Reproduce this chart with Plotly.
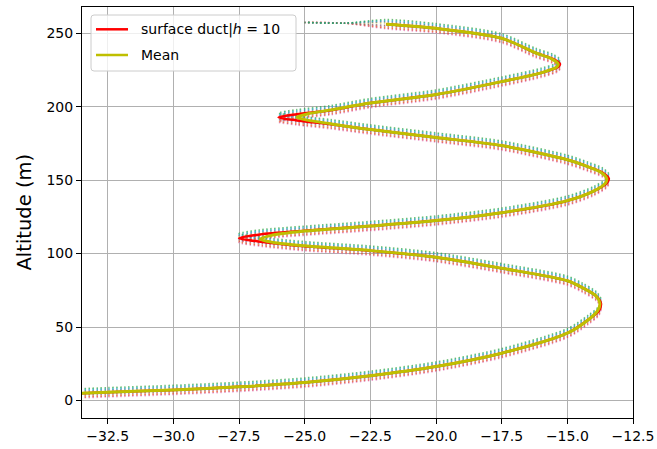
import plotly.graph_objects as go

# ---- data ----
mean_x = [-34.0, -32.5, -30.0, -27.5, -25.0, -22.5, -20.0, -17.5, -15.0, -14.2, -13.85, -13.76,
          -13.9, -14.4, -15.0, -17.5, -20.0, -22.5, -25.0, -26.2, -26.7, -26.3, -25.0, -22.5,
          -20.0, -17.5, -15.0, -14.0, -13.55, -13.5, -13.7, -14.2, -15.0, -17.5, -20.0, -22.5,
          -24.0, -24.9, -25.3, -24.9, -24.0, -22.5, -20.0, -17.5, -16.0, -15.4, -15.35, -15.6,
          -16.2, -17.5, -20.0, -21.9]
mean_y = [4.6, 5.6, 7.2, 9.3, 12.2, 16.8, 23.1, 32.2, 45.8, 55.0, 61.0, 66.0,
          71.0, 76.5, 81.5, 90.0, 97.5, 102.0, 105.3, 107.6, 109.8, 112.2, 115.3, 118.7,
          122.5, 127.8, 136.0, 142.5, 148.0, 151.0, 155.0, 159.0, 163.8, 173.5, 179.0, 184.4,
          188.3, 190.8, 192.8, 195.0, 197.8, 202.4, 208.2, 217.0, 223.0, 227.0, 229.0, 232.5,
          236.5, 246.5, 253.3, 256.1]

red_x = [-34.0, -32.5, -30.0, -27.5, -25.0, -22.5, -20.0, -17.5, -15.0, -14.2, -13.8, -13.72,
         -13.9, -14.4, -15.0, -17.5, -20.0, -22.5, -25.0, -26.6, -27.5, -26.7, -25.0, -22.5,
         -20.0, -17.5, -15.0, -14.0, -13.5, -13.42, -13.65, -14.2, -15.0, -17.5, -20.0, -22.5,
         -24.0, -25.3, -26.0, -25.3, -24.0, -22.5, -20.0, -17.5, -16.0, -15.35, -15.28, -15.55,
         -16.2, -17.5, -20.0, -21.9]
red_y = [4.6, 5.6, 7.2, 9.3, 12.2, 16.8, 23.1, 32.2, 45.8, 55.0, 61.0, 66.0,
         71.0, 76.5, 81.5, 90.0, 97.5, 102.0, 105.0, 107.9, 110.5, 113.0, 115.5, 118.7,
         122.5, 127.8, 136.0, 142.5, 148.0, 151.0, 155.0, 159.0, 163.8, 173.5, 179.0, 184.4,
         188.0, 190.6, 192.6, 194.8, 197.6, 202.4, 208.2, 217.0, 223.0, 227.0, 229.0, 232.5,
         236.5, 246.5, 253.3, 256.1]

# ensemble members: altitude offsets relative to the duct profile, plus their longer top tail
member_dy = [-3.2, -2.6, -2.0, -1.4, -0.8, 0.8, 1.4, 2.0, 2.6, 3.2]
member_tail_x = [-23.5, -25.0]
member_tail_y = [256.8, 257.3]
member_colors = ['#e377c2', '#d62728', '#ff7f0e', '#9467bd', '#8c564b',
                 '#bcbd22', '#7f7f7f', '#1f77b4', '#17becf', '#2ca02c']

x_ticks = [-32.5, -30.0, -27.5, -25.0, -22.5, -20.0, -17.5, -15.0, -12.5]
y_ticks = [0, 50, 100, 150, 200, 250]
legend_labels = ["surface duct|<i>h</i> = 10", "Mean"]
legend_colors = ["#ff0000", "#bfbf00"]

FONT = "DejaVu Sans"
W, H = 657, 449
L, R, T, B = 82, 24, 7, 31
PW, PH = W - L - R, H - T - B


def px2paper(px, py):
    return (px - L) / PW, (H - B - py) / PH


fig = go.Figure()

for dy, col in zip(member_dy, member_colors):
    fig.add_trace(go.Scatter(
        x=red_x + member_tail_x,
        y=[v + dy for v in red_y] + member_tail_y,
        mode="lines", line=dict(color=col, width=1.5, dash="1.5px,2.5px", shape="spline", smoothing=0.8),
        opacity=0.6, showlegend=False, hoverinfo="skip"))

fig.add_trace(go.Scatter(x=red_x, y=red_y, mode="lines", name=legend_labels[0], showlegend=False,
                         line=dict(color=legend_colors[0], width=2.5, shape="spline", smoothing=0.8)))
fig.add_trace(go.Scatter(x=mean_x, y=mean_y, mode="lines", name=legend_labels[1], showlegend=False,
                         line=dict(color=legend_colors[1], width=3, shape="spline", smoothing=0.8)))

axis_common = dict(showgrid=True, gridcolor="#b0b0b0", gridwidth=0.8, zeroline=False,
                   showline=True, linecolor="black", linewidth=1, mirror=True,
                   ticks="outside", ticklen=5, tickcolor="black", automargin=False,
                   ticklabeloverflow="allow",
                   tickfont=dict(family=FONT, size=14, color="black"))

# manual legend (box, line samples, labels) placed like the reference
shapes = []
annotations = []
bx0, by0 = px2paper(91, 71)
bx1, by1 = px2paper(296, 15)
r = 3
rx, ry = r / PW, r / PH
path = (f"M {bx0 + rx},{by0} L {bx1 - rx},{by0} Q {bx1},{by0} {bx1},{by0 + ry} "
        f"L {bx1},{by1 - ry} Q {bx1},{by1} {bx1 - rx},{by1} L {bx0 + rx},{by1} "
        f"Q {bx0},{by1} {bx0},{by1 - ry} L {bx0},{by0 + ry} Q {bx0},{by0} {bx0 + rx},{by0} Z")
shapes.append(dict(type="path", path=path, xref="paper", yref="paper",
                   line=dict(color="#cccccc", width=1), fillcolor="rgba(255,255,255,0.8)"))
for i, (lab, col) in enumerate(zip(legend_labels, legend_colors)):
    row_y = 29.3 + i * 25.7
    x0, yy = px2paper(96, row_y)
    x1, _ = px2paper(128, row_y)
    shapes.append(dict(type="line", xref="paper", yref="paper", x0=x0, x1=x1, y0=yy, y1=yy,
                       line=dict(color=col, width=2.5)))
    tx, _ = px2paper(139, row_y)
    annotations.append(dict(text=lab, xref="paper", yref="paper", x=tx, y=yy,
                            xanchor="left", yanchor="middle", showarrow=False,
                            font=dict(family=FONT, size=14, color="black")))

annotations.append(dict(text="Altitude (m)", xref="paper", yref="paper",
                        x=(24 - L) / PW, y=0.5, xanchor="center", yanchor="middle",
                        textangle=-90, showarrow=False,
                        font=dict(family=FONT, size=19.5, color="black")))

fig.update_layout(
    width=W, height=H,
    margin=dict(l=L, r=R, t=T, b=B, autoexpand=False),
    paper_bgcolor="white", plot_bgcolor="white",
    font=dict(family=FONT, color="black"),
    showlegend=False,
    xaxis=dict(range=[-33.48, -12.5], tickvals=x_ticks, tickformat=".1f", **axis_common),
    yaxis=dict(range=[-11.9, 267.8], tickvals=y_ticks, **axis_common),
    shapes=shapes,
    annotations=annotations,
)

fig.write_html("out.html", config={"displayModeBar": False},
               post_script="document.body.style.margin='0';document.body.style.overflow='hidden';")
